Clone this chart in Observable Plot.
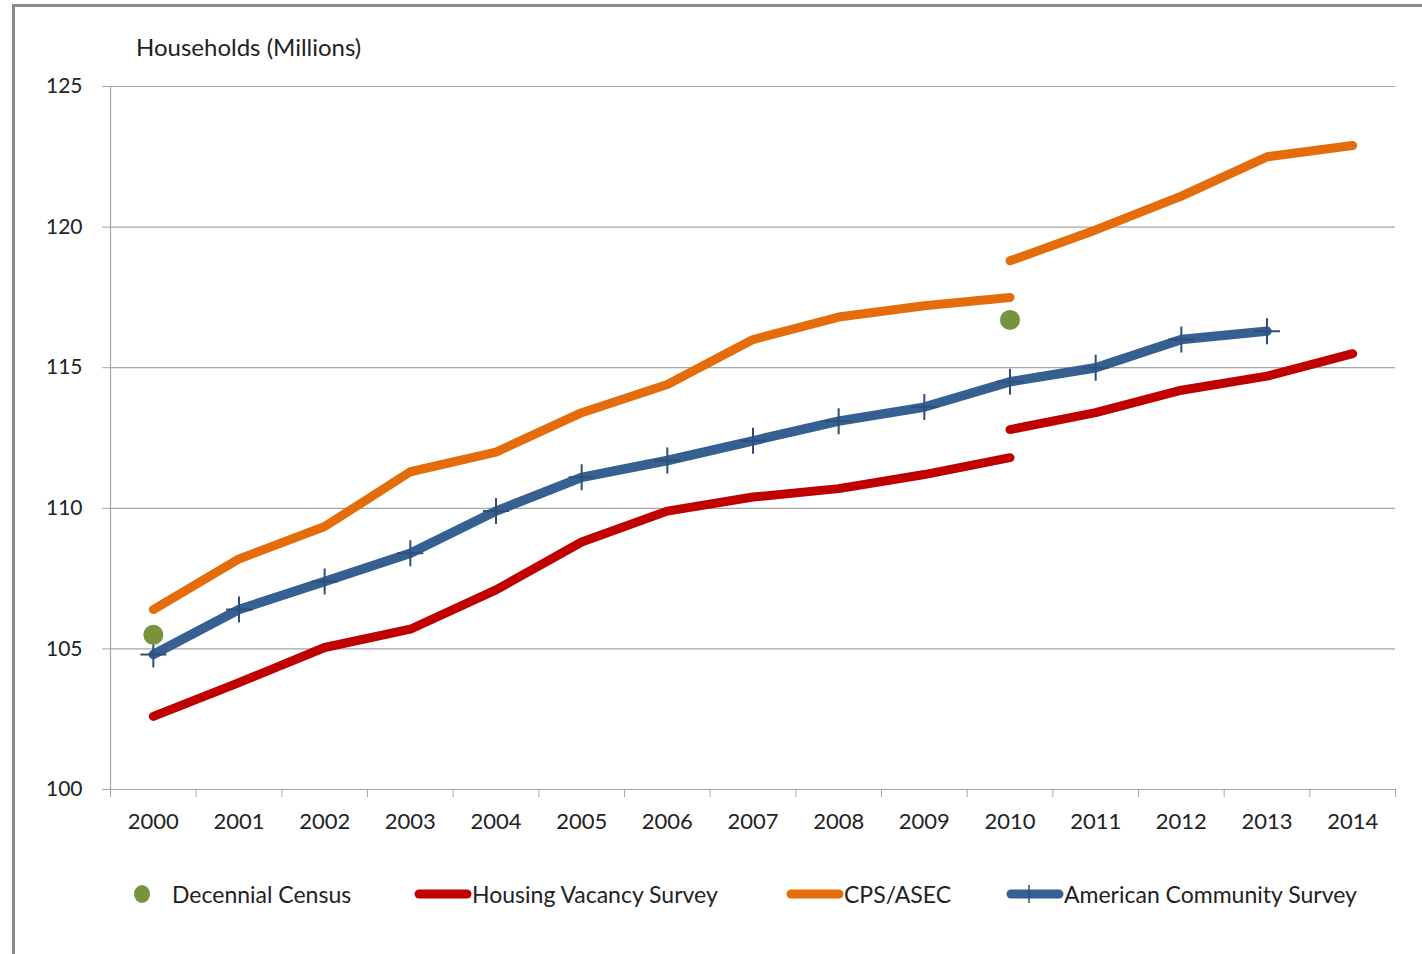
<!DOCTYPE html>
<html>
<head>
<meta charset="utf-8">
<script src="https://cdn.jsdelivr.net/npm/d3@7"></script>
<script src="https://cdn.jsdelivr.net/npm/@observablehq/plot@0.6"></script>
<style>
  html, body { margin: 0; padding: 0; background: #fff; }
  #wrap { position: relative; width: 1422px; height: 954px; overflow: hidden; font-family: Lato, "Open Sans", sans-serif; color: #222; }
  #frame { position: absolute; left: 12px; top: 4px; width: 1430px; height: 980px; border-left: 3px solid #8c8c8c; border-top: 3px solid #8c8c8c; box-sizing: border-box; }
  #chart { position: absolute; left: 0; top: 0; }
  #ytitle { position: absolute; left: 136px; top: 32px; font-size: 24px; color: #222; }
  .leg { position: absolute; top: 880px; height: 28px; display: flex; align-items: center; font-size: 23px; color: #222; white-space: nowrap; }
  .leg svg { display: block; }
</style>
</head>
<body>
<div id="wrap">
  <div id="frame"></div>
  <div id="chart"></div>
  <div id="ytitle">Households (Millions)</div>
  <div id="legend"></div>
</div>
<script>
// ---- data ----
const years = [2000, 2001, 2002, 2003, 2004, 2005, 2006, 2007, 2008, 2009, 2010, 2011, 2012, 2013, 2014];
const hvsYearsA = [2000, 2001, 2002, 2003, 2004, 2005, 2006, 2007, 2008, 2009, 2010];
const hvsValuesA = [102.6, 103.8, 105.05, 105.7, 107.1, 108.8, 109.9, 110.4, 110.7, 111.2, 111.8];
const hvsYearsB = [2010, 2011, 2012, 2013, 2014];
const hvsValuesB = [112.8, 113.4, 114.2, 114.7, 115.5];
const cpsYearsA = [2000, 2001, 2002, 2003, 2004, 2005, 2006, 2007, 2008, 2009, 2010];
const cpsValuesA = [106.4, 108.2, 109.35, 111.3, 112.0, 113.4, 114.4, 116.0, 116.8, 117.2, 117.5];
const cpsYearsB = [2010, 2011, 2012, 2013, 2014];
const cpsValuesB = [118.8, 119.9, 121.1, 122.5, 122.9];
const acsYears = [2000, 2001, 2002, 2003, 2004, 2005, 2006, 2007, 2008, 2009, 2010, 2011, 2012, 2013];
const acsValues = [104.8, 106.4, 107.4, 108.4, 109.9, 111.1, 111.7, 112.4, 113.1, 113.6, 114.5, 115.0, 116.0, 116.3];
const censusYears = [2000, 2010];
const censusValues = [105.5, 116.7];
const yTicks = [100, 105, 110, 115, 120, 125];
const seriesNames = ["Decennial Census", "Housing Vacancy Survey", "CPS/ASEC", "American Community Survey"];
const colors = { census: "#77933c", hvs: "#c00000", cps: "#e46c0a", acs: "#376092", acsMark: "#2c4f7c" };

// ---- tables ----
const rows = (ys, vs, series, seg) => ys.map((y, i) => ({ year: y, value: vs[i], series, seg }));
const lineData = [
  ...rows(hvsYearsA, hvsValuesA, "hvs", "hvsA"),
  ...rows(hvsYearsB, hvsValuesB, "hvs", "hvsB"),
  ...rows(cpsYearsA, cpsValuesA, "cps", "cpsA"),
  ...rows(cpsYearsB, cpsValuesB, "cps", "cpsB")
];
const acsData = rows(acsYears, acsValues, "acs", "acs");
const censusData = rows(censusYears, censusValues, "census", "census");
const bounds = d3.range(years[0] - 0.5, years[years.length - 1] + 1, 1);

const plusSymbol = {
  draw(ctx, size) {
    const h = 13;
    ctx.moveTo(-h, 0); ctx.lineTo(h, 0);
    ctx.moveTo(0, -h); ctx.lineTo(0, h);
  }
};

const chart = Plot.plot({
  width: 1422,
  height: 860,
  marginLeft: 110,
  marginRight: 27,
  marginTop: 86,
  marginBottom: 71,
  style: { fontFamily: "Lato, 'Open Sans', sans-serif", fontSize: "20px", color: "#222", background: "transparent" },
  x: { type: "linear", domain: [years[0] - 0.5, years[years.length - 1] + 0.5] },
  y: { domain: [100, 125] },
  marks: [
    Plot.gridY(yTicks, { stroke: "#a6a6a6", strokeOpacity: 1, strokeWidth: 1.2 }),
    Plot.ruleX([years[0] - 0.5], { stroke: "#a6a6a6", strokeWidth: 1.2 }),
    Plot.axisY(yTicks, { tickSize: 8, tickPadding: 20, stroke: "#a6a6a6", fontSize: 21, fill: "#222", label: null }),
    Plot.axisX(bounds, { tickSize: 8, tickFormat: () => "", stroke: "#a6a6a6", label: null }),
    Plot.axisX(years, { tickSize: 0, tickPadding: 24, tickFormat: d => String(d), fontSize: 22, fill: "#222", label: null }),
    Plot.line(lineData, { x: "year", y: "value", z: "seg", stroke: d => colors[d.series], strokeWidth: 9, strokeLinecap: "round", strokeLinejoin: "round" }),
    Plot.line(acsData, { x: "year", y: "value", stroke: colors.acs, strokeWidth: 9.5, strokeLinecap: "round", strokeLinejoin: "round" }),
    Plot.dot(acsData, { x: "year", y: "value", symbol: plusSymbol, r: 10, stroke: colors.acsMark, strokeWidth: 2, fill: "none" }),
    Plot.dot(censusData, { x: "year", y: "value", r: 10, fill: colors.census, stroke: "none" })
  ]
});
document.getElementById("chart").appendChild(chart);

// ---- legend ----
const legend = document.getElementById("legend");
const legendItems = [
  { name: seriesNames[0], kind: "dot", color: colors.census, left: 132, gap: 20 },
  { name: seriesNames[1], kind: "line", color: colors.hvs, left: 414, gap: 0 },
  { name: seriesNames[2], kind: "line", color: colors.cps, left: 786, gap: 0 },
  { name: seriesNames[3], kind: "acs", color: colors.acs, left: 1006, gap: 0 }
];
legendItems.forEach(it => {
  const div = document.createElement("div");
  div.className = "leg";
  div.style.left = it.left + "px";
  let sw;
  if (it.kind === "dot") {
    sw = `<svg width="20" height="28"><ellipse cx="10" cy="14" rx="8" ry="9" fill="${it.color}"/></svg>`;
  } else {
    sw = `<svg width="58" height="28"><line x1="5" y1="14" x2="53" y2="14" stroke="${it.color}" stroke-width="9" stroke-linecap="round"/>` +
      (it.kind === "acs" ? `<line x1="23" y1="5" x2="23" y2="23" stroke="${colors.acsMark}" stroke-width="1.5"/>` : "") + `</svg>`;
  }
  div.innerHTML = sw + `<span style="margin-left:${it.gap}px">${it.name}</span>`;
  legend.appendChild(div);
});
</script>
</body>
</html>
